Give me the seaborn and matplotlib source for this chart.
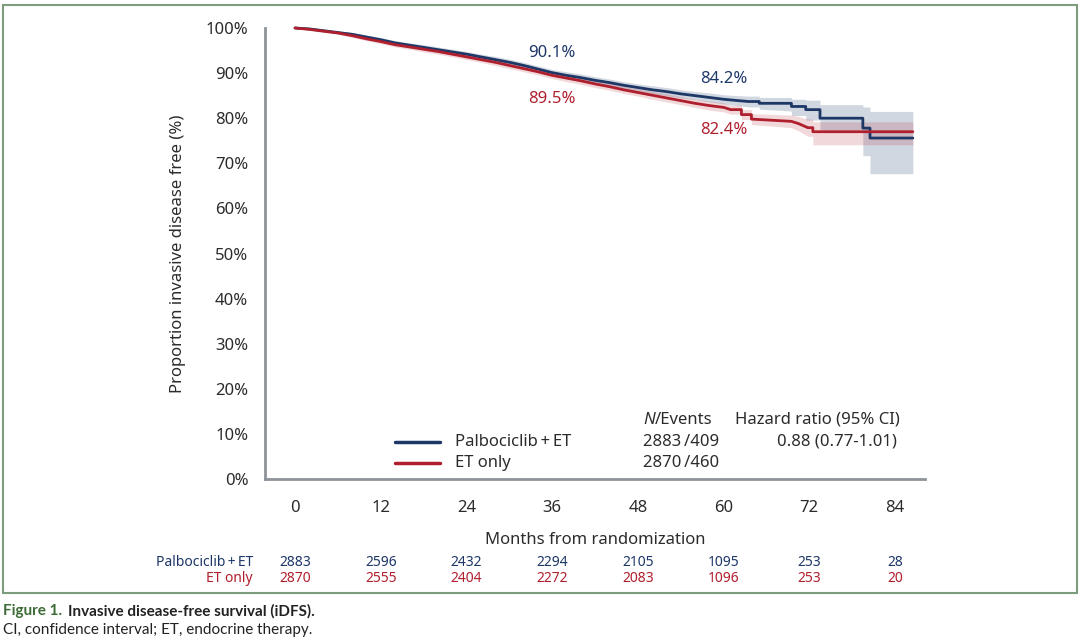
import numpy as np
import pandas as pd
import matplotlib.pyplot as plt
import seaborn as sns
from matplotlib.lines import Line2D
from matplotlib.patches import Rectangle

# values (months, % invasive disease free)
# repeated months are the vertical drops of the Kaplan-Meier steps
palbo_months = [0, 2, 4, 6, 8, 10, 12, 14, 16, 18, 20, 22, 24, 26, 28, 30, 32, 34, 36, 38, 40,
                42, 44, 46, 48, 50, 52, 54, 56, 58, 60, 62, 63.5, 65, 65, 69.5, 69.5, 71.5, 71.5,
                73.5, 73.5, 79.5, 79.5, 80.5, 80.5, 86.5]
palbo_surv = [100, 99.8, 99.4, 99.0, 98.6, 98.0, 97.4, 96.7, 96.2, 95.7, 95.2, 94.7, 94.2, 93.6, 93.0,
              92.4, 91.7, 90.9, 90.1, 89.5, 89.0, 88.4, 87.9, 87.3, 86.8, 86.3, 85.9, 85.4, 85.0, 84.6,
              84.2, 83.9, 83.7, 83.7, 83.3, 83.3, 82.6, 82.6, 81.9, 81.9, 80.0, 80.0, 77.8, 77.8,
              75.6, 75.6]
palbo_lo = [100, 99.6, 99.1, 98.7, 98.2, 97.6, 96.9, 96.2, 95.7, 95.1, 94.6, 94.1, 93.6, 93.0, 92.3,
            91.7, 91.0, 90.2, 89.4, 88.7, 88.2, 87.6, 87.1, 86.5, 86.0, 85.4, 85.0, 84.5, 84.1, 83.6,
            83.2, 82.8, 82.5, 82.5, 82.0, 81.6, 80.6, 80.6, 79.6, 79.6, 77.4, 77.4, 71.7, 71.7,
            67.7, 67.7]
palbo_hi = [100, 100, 99.7, 99.3, 99.0, 98.4, 97.9, 97.2, 96.7, 96.3, 95.8, 95.3, 94.8, 94.2, 93.7,
            93.1, 92.4, 91.6, 90.8, 90.3, 89.8, 89.2, 88.7, 88.1, 87.6, 87.2, 86.8, 86.3, 85.9, 85.6,
            85.2, 85.0, 84.9, 84.9, 84.6, 84.6, 84.2, 84.2, 84.0, 84.0, 83.0, 83.0, 82.5, 82.5,
            81.5, 81.5]

et_months = [0, 2, 4, 6, 8, 10, 12, 14, 16, 18, 20, 22, 24, 26, 28, 30, 32, 34, 36, 38, 40,
             42, 44, 46, 48, 50, 52, 54, 56, 58, 60, 61, 62.5, 62.5, 63.9, 63.9, 69.5, 70.5, 71.8,
             72.5, 72.5, 86.5]
et_surv = [100, 99.7, 99.3, 98.9, 98.3, 97.6, 97.0, 96.3, 95.8, 95.3, 94.8, 94.2, 93.6, 93.0, 92.4,
           91.7, 91.0, 90.3, 89.5, 88.9, 88.3, 87.6, 87.0, 86.3, 85.7, 85.1, 84.5, 83.9, 83.3, 82.8,
           82.4, 81.9, 81.9, 80.8, 80.8, 79.8, 79.3, 78.8, 77.9, 77.9, 77.0, 77.0]
et_lo = [100, 99.5, 99.0, 98.6, 97.9, 97.2, 96.5, 95.8, 95.3, 94.7, 94.2, 93.6, 93.0, 92.4, 91.7,
         91.0, 90.3, 89.6, 88.8, 88.1, 87.5, 86.8, 86.2, 85.5, 84.9, 84.2, 83.6, 83.0, 82.4, 81.8,
         81.4, 80.9, 80.9, 79.7, 79.7, 78.6, 77.9, 77.2, 76.0, 76.0, 74.1, 74.1]
et_hi = [100, 99.9, 99.6, 99.2, 98.7, 98.0, 97.5, 96.8, 96.3, 95.9, 95.4, 94.8, 94.2, 93.6, 93.1,
         92.4, 91.7, 91.0, 90.2, 89.7, 89.1, 88.4, 87.8, 87.1, 86.5, 86.0, 85.4, 84.8, 84.2, 83.8,
         83.4, 82.9, 82.9, 81.9, 81.9, 81.0, 80.7, 80.4, 79.8, 79.8, 79.2, 79.2]

arms = ['Palbociclib\u2009+\u2009ET', 'ET only']
n_events = ['2883\u2009/409', '2870\u2009/460']
hazard = '0.88 (0.77-1.01)'
risk_months = [0, 12, 24, 36, 48, 60, 72, 84]
palbo_risk = [2883, 2596, 2432, 2294, 2105, 1095, 253, 28]
et_risk = [2870, 2555, 2404, 2272, 2083, 1096, 253, 20]
marks = [(36, 94.5, '90.1%', 0), (36, 84.3, '89.5%', 1), (60, 88.7, '84.2%', 0), (60, 77.4, '82.4%', 1)]

navy = '#1d3767'
red = '#b01f2d'
grey = '#8d9398'
txt = '#2b2b2b'

sns.set_style("white")
plt.rcParams['font.family'] = ['Noto Sans', 'DejaVu Sans']

W, H = 1080, 639
fig = plt.figure(figsize=(W / 100, H / 100), dpi=100)
rend = fig.canvas.get_renderer()

def px(x, y):
    # pixel position (from top left) -> figure fraction
    return x / W, 1 - y / H

def right_edge(t):
    return t.get_window_extent(renderer=rend).x1 / W

ax = fig.add_axes([265 / W, 1 - 479 / H, (925 - 265) / W, (479 - 28) / H])

df = pd.concat([
    pd.DataFrame({'month': palbo_months, 'surv': palbo_surv, 'arm': arms[0]}),
    pd.DataFrame({'month': et_months, 'surv': et_surv, 'arm': arms[1]}),
])

ax.fill_between(palbo_months, palbo_lo, palbo_hi, color=navy, alpha=0.2, lw=0)
ax.fill_between(et_months, et_lo, et_hi, color=red, alpha=0.17, lw=0)
sns.lineplot(data=df, x='month', y='surv', hue='arm', palette=[navy, red], estimator=None,
             sort=False, lw=2.0, legend=False, ax=ax, clip_on=False)

for m, y, s, i in marks:
    ax.text(m, y, s, color=[navy, red][i], fontsize=12, ha='center', va='center')

ax.set_xlim(-4.2, 88.2)
ax.set_ylim(0, 100)
ax.set_xticks(risk_months)
ax.set_yticks(range(0, 101, 10))
ax.set_yticklabels([f'{v}%' for v in range(0, 101, 10)])
ax.tick_params(axis='both', labelsize=12, colors=grey, labelcolor=txt, length=8, width=2, direction='out')
ax.tick_params(axis='x', pad=7)
ax.tick_params(axis='y', pad=4)
for side in ['top', 'right']:
    ax.spines[side].set_visible(False)
for side in ['left', 'bottom']:
    ax.spines[side].set_color(grey)
    ax.spines[side].set_linewidth(2)
ax.set_xlabel('Months from randomization', fontsize=12, color=txt, labelpad=12)
ax.set_ylabel('Proportion invasive disease free (%)', fontsize=12, color=txt, labelpad=14)

# legend table inside the plot
tn = fig.text(*px(643, 420), 'N', fontsize=12, color=txt, va='center', style='italic')
fig.text(right_edge(tn), px(0, 420)[1], '/Events', fontsize=12, color=txt, va='center')
fig.text(*px(735, 420), 'Hazard ratio (95% CI)', fontsize=12, color=txt, va='center')
for i, (arm, ne, col) in enumerate(zip(arms, n_events, [navy, red])):
    y = [442, 463][i]
    fig.add_artist(Line2D([px(395, y)[0], px(440, y)[0]], [px(0, y)[1]] * 2, color=col, lw=2.5))
    fig.text(*px(455, y), arm, fontsize=12, color=txt, va='center')
    fig.text(*px(643, y), ne, fontsize=12, color=txt, va='center')
fig.text(*px(897, 442), hazard, fontsize=12, color=txt, va='center', ha='right')

# numbers at risk
for i, (arm, risk, col) in enumerate(zip(arms, [palbo_risk, et_risk], [navy, red])):
    y = [563, 579][i]
    fig.text(*px(253, y), arm, fontsize=10, color=col, ha='right', va='center')
    for m, n in zip(risk_months, risk):
        xf = ax.transData.transform((m, 0))[0] / W
        fig.text(xf, px(0, y)[1], str(n), fontsize=10, color=col, ha='center', va='center')

# frame and caption
fig.add_artist(Rectangle(px(3, 593), 1074 / W, 588 / H, fill=False, ec='#7d9b7d', lw=1.5))
t1 = fig.text(*px(3, 611), 'Figure 1.', fontsize=11, color='#3d6b35', weight='bold',
              family='Lato', va='center')
fig.text(right_edge(t1) + 6 / W, px(0, 611)[1], 'Invasive disease-free survival (iDFS).', fontsize=11,
         color='#222222', weight='bold', family='Lato', va='center')
fig.text(*px(3, 630), 'CI, confidence interval; ET, endocrine therapy.', fontsize=11, color='#222222',
         family='Lato', va='center')

fig.savefig('out.png', dpi=100)
